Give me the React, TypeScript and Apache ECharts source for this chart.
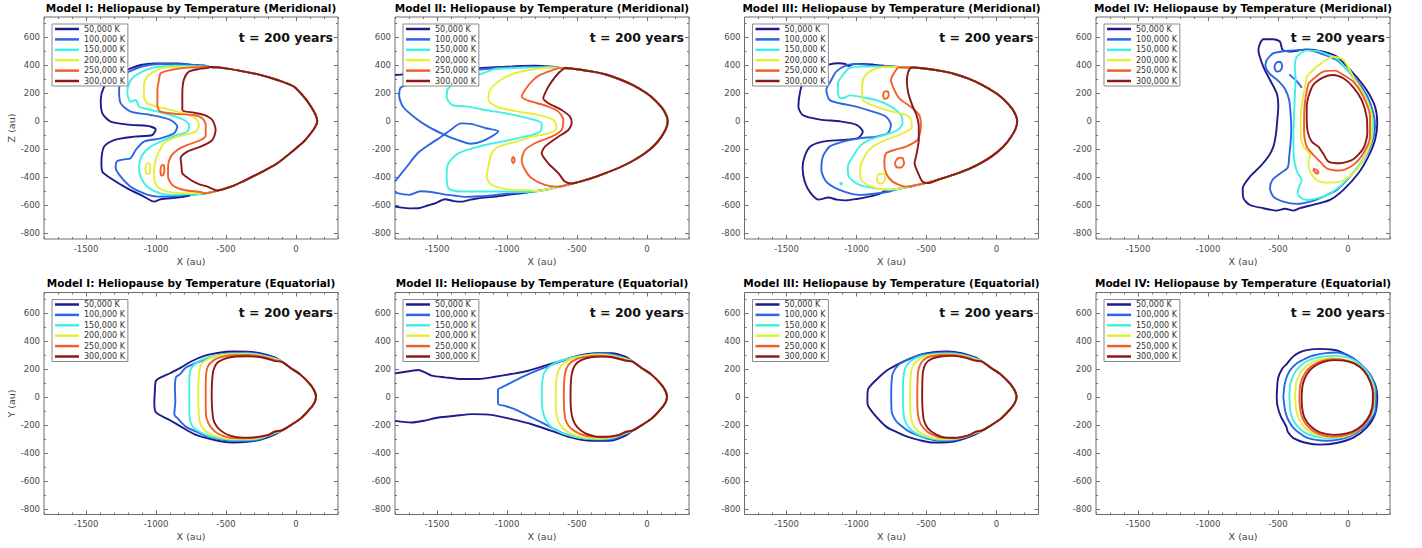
import React, { useEffect, useRef } from 'react';
import * as echarts from 'echarts';

type Pt = [number, number];

const FONT = '"DejaVu Sans", "Liberation Sans", sans-serif';
const LEVELS = ['50,000 K', '100,000 K', '150,000 K', '200,000 K', '250,000 K', '300,000 K'];
const LEVEL_COLORS = ['#1c1c8c', '#2c66e4', '#3ff0e4', '#e6ee3a', '#f2602a', '#8c1818'];
const X_MIN = -1800;
const X_MAX = 300;
const Y_MIN = -841;
const Y_MAX = 745;
const X_LABELS = [-1500, -1000, -500, 0];
const Y_LABELS = [-800, -600, -400, -200, 0, 200, 400, 600];
const X_MINOR = [-1800, -1700, -1600, -1500, -1400, -1300, -1200, -1100, -1000, -900, -800, -700, -600, -500, -400, -300, -200, -100, 0, 100, 200, 300];
const Y_MINOR = [-800, -700, -600, -500, -400, -300, -200, -100, 0, 100, 200, 300, 400, 500, 600, 700];
const TITLES = [
  'Model I: Heliopause by Temperature (Meridional)',
  'Model II: Heliopause by Temperature (Meridional)',
  'Model III: Heliopause by Temperature (Meridional)',
  'Model IV: Heliopause by Temperature (Meridional)',
  'Model I: Heliopause by Temperature (Equatorial)',
  'Model II: Heliopause by Temperature (Equatorial)',
  'Model III: Heliopause by Temperature (Equatorial)',
  'Model IV: Heliopause by Temperature (Equatorial)',
];
const TIME_LABEL = 't = 200 years';

// ---------- Model I, meridional ----------
const M1M_FRONT: Pt[] = [[-950,-545],[-850,-535],[-750,-525],[-650,-515],[-560,-495],[-450,-462],[-371,-425],[-250,-365],[-133,-300],[-14,-205],[60,-140],[110,-80],[140,-35],[152,0],[140,45],[110,100],[60,170],[-14,247],[-133,295],[-250,330],[-371,355],[-500,378],[-610,388],[-700,392],[-800,395]];
const M1M_50: Pt[] = [[-650,398],[-729,402],[-848,414],[-1014,414],[-1110,402],[-1205,370],[-1252,355],[-1312,319],[-1371,247],[-1395,152],[-1383,57],[-1324,-2],[-1181,-26],[-1062,-33],[-1002,-57],[-1026,-98],[-1157,-110],[-1300,-134],[-1371,-181],[-1390,-300],[-1383,-360],[-1324,-407],[-1205,-479],[-1086,-538],[-1014,-574],[-967,-557],[-848,-545],[-760,-530]];
const M1M_100: Pt[] = [[-657,395],[-800,407],[-967,409],[-1086,395],[-1193,355],[-1240,319],[-1264,224],[-1252,128],[-1181,69],[-1038,45],[-895,9],[-848,-38],[-871,-86],[-967,-122],[-1086,-145],[-1145,-205],[-1181,-264],[-1229,-272],[-1281,-288],[-1288,-336],[-1252,-395],[-1181,-467],[-1086,-515],[-990,-538],[-848,-534],[-760,-522]];
const M1M_150: Pt[] = [[-720,393],[-850,397],[-980,390],[-1060,370],[-1157,319],[-1193,271],[-1205,200],[-1181,140],[-1145,152],[-1121,105],[-1086,93],[-990,69],[-895,45],[-800,9],[-764,-26],[-776,-74],[-848,-98],[-943,-134],[-1038,-181],[-1098,-241],[-1121,-324],[-1110,-395],[-1062,-467],[-967,-515],[-848,-526],[-760,-518]];
const M1M_200: Pt[] = [[-700,390],[-850,388],[-943,383],[-1014,355],[-1062,319],[-1086,259],[-1086,176],[-1062,128],[-990,105],[-895,81],[-800,57],[-717,21],[-693,-26],[-717,-74],[-800,-98],[-883,-122],[-943,-157],[-979,-217],[-1002,-276],[-1014,-348],[-1014,-407],[-990,-467],[-919,-503],[-776,-515],[-700,-512]];
const M1M_200_LOOP: Pt[] = [[-1045,-300],[-1040,-340],[-1050,-375],[-1070,-375],[-1075,-335],[-1062,-300]];
const M1M_250: Pt[] = [[-650,388],[-776,383],[-895,366],[-967,343],[-979,295],[-990,224],[-990,105],[-967,69],[-848,52],[-729,45],[-669,21],[-645,-26],[-645,-98],[-681,-134],[-776,-169],[-848,-205],[-895,-253],[-914,-324],[-914,-395],[-883,-455],[-800,-491],[-681,-505]];
const M1M_250_LOOP: Pt[] = [[-945,-310],[-940,-345],[-948,-385],[-962,-388],[-968,-350],[-960,-315]];
const M1M_300: Pt[] = [[-633,380],[-700,372],[-764,355],[-800,300],[-812,200],[-812,81],[-730,62],[-657,45],[-598,9],[-574,-62],[-598,-134],[-681,-181],[-776,-217],[-824,-264],[-818,-320],[-812,-372],[-752,-419],[-690,-450],[-633,-467]];

// ---------- Model II, meridional ----------
const M2M_FRONT: Pt[] = [[-900,-512],[-800,-500],[-700,-484],[-600,-462],[-500,-437],[-400,-408],[-300,-372],[-200,-332],[-100,-282],[-20,-232],[50,-175],[100,-115],[135,-55],[148,0],[138,42],[110,92],[60,148],[0,198],[-100,258],[-200,302],[-300,336],[-400,357],[-500,372],[-600,380],[-700,384],[-800,385]];
const M2M_50_LOW: Pt[] = [[-1800,-610],[-1700,-622],[-1633,-621],[-1560,-600],[-1514,-586],[-1443,-557],[-1380,-570],[-1324,-574],[-1260,-560],[-1205,-550],[-1086,-538],[-967,-522],[-900,-514]];
const M2M_50_UP: Pt[] = [[-700,392],[-800,397],[-900,396],[-967,392],[-1086,386],[-1205,380],[-1324,373],[-1443,367],[-1530,355],[-1633,343],[-1720,336],[-1800,331]];
const M2M_100_LOW: Pt[] = [[-1800,-510],[-1700,-526],[-1620,-500],[-1540,-505],[-1460,-520],[-1380,-530],[-1300,-540],[-1200,-536],[-1100,-528],[-1000,-518],[-900,-508],[-820,-500]];
const M2M_100_UP: Pt[] = [[-700,387],[-850,390],[-1000,384],[-1150,374],[-1300,362],[-1400,345],[-1450,300],[-1550,275],[-1680,265],[-1760,240],[-1770,180],[-1740,100],[-1650,20],[-1560,-40],[-1450,-95],[-1350,-135],[-1260,-160],[-1170,-140],[-1062,-72],[-1150,-50],[-1250,-20],[-1330,-15],[-1400,-60],[-1470,-110],[-1560,-170],[-1640,-230],[-1720,-330],[-1800,-430]];
const M2M_150: Pt[] = [[-1086,374],[-1205,331],[-1324,295],[-1419,236],[-1431,176],[-1395,117],[-1276,105],[-1157,81],[-1014,57],[-848,21],[-752,-14],[-764,-74],[-871,-110],[-1038,-145],[-1205,-181],[-1348,-229],[-1419,-300],[-1431,-383],[-1419,-479],[-1324,-502],[-1157,-502],[-1014,-502],[-900,-505]];
const M2M_200: Pt[] = [[-729,382],[-919,350],[-1038,300],[-1121,224],[-1133,152],[-1098,117],[-1038,93],[-919,69],[-776,45],[-669,10],[-645,-50],[-705,-86],[-824,-110],[-950,-150],[-1062,-181],[-1110,-229],[-1133,-324],[-1145,-395],[-1110,-455],[-967,-490],[-824,-492]];
const M2M_250: Pt[] = [[-633,380],[-764,331],[-824,283],[-871,224],[-895,176],[-860,152],[-824,140],[-705,105],[-633,69],[-598,10],[-610,-62],[-681,-110],[-800,-157],[-871,-205],[-895,-276],[-871,-348],[-824,-407],[-729,-455],[-650,-467]];
const M2M_250_LOOP: Pt[] = [[-950,-255],[-945,-280],[-955,-300],[-965,-280],[-960,-258]];
const M2M_300: Pt[] = [[-586,382],[-633,343],[-681,283],[-717,224],[-741,164],[-705,129],[-610,81],[-550,33],[-538,-14],[-562,-62],[-633,-110],[-729,-181],[-752,-229],[-705,-300],[-633,-371],[-586,-431],[-540,-445]];

// ---------- Model III, meridional ----------
const M3M_FRONT: Pt[] = [[-900,-515],[-800,-500],[-700,-482],[-600,-462],[-500,-440],[-400,-412],[-300,-380],[-200,-342],[-100,-292],[-20,-240],[50,-180],[100,-118],[135,-57],[148,0],[138,42],[110,92],[60,148],[0,198],[-100,258],[-200,304],[-300,338],[-400,360],[-500,375],[-600,384],[-700,388],[-800,390]];
const M3M_50: Pt[] = [[-800,397],[-880,405],[-960,410],[-1020,408],[-1060,395],[-1075,408],[-1130,415],[-1200,405],[-1260,385],[-1330,345],[-1380,285],[-1405,200],[-1415,105],[-1385,45],[-1260,12],[-1120,0],[-1000,-25],[-955,-75],[-990,-120],[-1100,-133],[-1240,-145],[-1330,-180],[-1370,-250],[-1385,-330],[-1370,-430],[-1330,-510],[-1270,-560],[-1200,-545],[-1140,-560],[-1080,-565],[-1000,-555],[-920,-540],[-840,-520]];
const M3M_100: Pt[] = [[-900,398],[-1000,408],[-1074,400],[-1145,355],[-1180,295],[-1216,224],[-1192,152],[-1121,129],[-1003,105],[-884,69],[-789,33],[-754,-26],[-777,-86],[-860,-110],[-979,-121],[-1097,-145],[-1192,-181],[-1240,-252],[-1251,-348],[-1216,-431],[-1121,-490],[-979,-526],[-860,-516],[-780,-505]];
const M3M_150: Pt[] = [[-950,392],[-1050,379],[-1097,331],[-1133,271],[-1133,200],[-1115,165],[-1080,170],[-1050,185],[-979,176],[-860,152],[-754,105],[-683,45],[-671,-14],[-706,-62],[-801,-98],[-908,-133],[-979,-181],[-1026,-252],[-1062,-324],[-1055,-395],[-979,-455],[-860,-479],[-760,-490]];
const M3M_150_DOT: Pt[] = [[-1100,-440],[-1110,-452],[-1118,-440]];
const M3M_200: Pt[] = [[-800,390],[-884,367],[-943,319],[-960,248],[-955,152],[-860,105],[-742,69],[-647,45],[-610,10],[-605,-40],[-623,-62],[-694,-98],[-789,-133],[-884,-181],[-943,-252],[-974,-348],[-967,-419],[-896,-467],[-789,-486],[-720,-485]];
const M3M_200_LOOP: Pt[] = [[-800,-375],[-795,-405],[-810,-440],[-840,-445],[-855,-410],[-840,-378]];
const M3M_250: Pt[] = [[-700,388],[-718,367],[-754,295],[-730,224],[-694,164],[-600,93],[-552,45],[-540,-38],[-564,-133],[-647,-181],[-730,-205],[-789,-229],[-801,-300],[-789,-371],[-742,-431],[-647,-467],[-620,-465]];
const M3M_250_LOOP_A: Pt[] = [[-775,215],[-770,190],[-780,165],[-800,160],[-810,185],[-800,212]];
const M3M_250_LOOP_B: Pt[] = [[-670,-260],[-660,-300],[-680,-330],[-710,-330],[-725,-300],[-705,-265]];
const M3M_300: Pt[] = [[-610,383],[-630,355],[-640,290],[-630,200],[-600,110],[-570,40],[-555,-40],[-555,-130],[-570,-230],[-585,-300],[-560,-370],[-530,-430],[-490,-442]];

// ---------- Model IV, meridional ----------
const M4M_50: Pt[] = [[-628,557],[-605,586],[-533,586],[-486,569],[-467,510],[-414,498],[-295,514],[-176,498],[-81,462],[38,343],[133,224],[193,105],[209,-14],[193,-133],[145,-252],[74,-371],[-33,-490],[-129,-562],[-224,-590],[-343,-621],[-390,-638],[-450,-625],[-509,-638],[-605,-621],[-700,-598],[-747,-550],[-752,-479],[-700,-395],[-628,-324],[-569,-252],[-533,-181],[-514,-86],[-505,10],[-498,105],[-509,200],[-557,295],[-605,390],[-640,510]];
const M4M_100: Pt[] = [[-581,438],[-533,486],[-414,505],[-295,510],[-200,486],[-81,438],[38,319],[133,188],[181,57],[193,-38],[169,-157],[110,-276],[14,-395],[-81,-490],[-176,-538],[-271,-574],[-367,-590],[-462,-574],[-533,-538],[-557,-479],[-540,-420],[-480,-370],[-430,-330],[-420,-250],[-410,-150],[-405,-50],[-410,50],[-420,150],[-450,230],[-500,290],[-560,340],[-590,400]];
const M4M_100_LOOP_A: Pt[] = [[-480,425],[-470,395],[-485,360],[-510,355],[-525,385],[-510,420]];
const M4M_100_LOOP_B: Pt[] = [[-420,335],[-370,290],[-330,240],[-360,280]];
const M4M_150: Pt[] = [[-367,462],[-300,505],[-230,505],[-150,478],[-70,440],[30,320],[120,190],[168,60],[180,-40],[160,-160],[100,-280],[0,-410],[-110,-505],[-200,-545],[-290,-562],[-340,-545],[-360,-510],[-350,-470],[-330,-420],[-360,-370],[-380,-300],[-390,-200],[-390,-80],[-385,50],[-380,180],[-375,300],[-380,400]];
const M4M_200: Pt[] = [[-295,319],[-224,390],[-105,462],[-33,438],[38,319],[121,176],[169,33],[169,-110],[121,-252],[38,-371],[-57,-431],[-152,-438],[-224,-419],[-271,-360],[-283,-300],[-271,-240],[-319,-181],[-338,-86],[-338,33],[-324,152],[-307,248]];
const M4M_250: Pt[] = [[-283,271],[-176,355],[-93,362],[-33,331],[38,283],[110,176],[157,33],[157,-110],[110,-229],[38,-312],[-57,-352],[-152,-336],[-200,-288],[-248,-240],[-295,-181],[-314,-62],[-312,81],[-302,176]];
const M4M_250_LOOP: Pt[] = [[-250,-345],[-220,-375],[-210,-365],[-240,-340]];
const M4M_300: Pt[] = [[-283,176],[-248,260],[-176,314],[-105,331],[-33,307],[38,243],[98,152],[133,33],[138,-86],[110,-193],[38,-271],[-57,-300],[-140,-288],[-176,-233],[-212,-181],[-259,-145],[-288,-74],[-295,33],[-295,105]];

// ---------- equatorial front (shared nose region) ----------
const EQ_FRONT: Pt[] = [[-100,-240],[-30,-198],[30,-158],[95,-92],[130,-45],[143,0],[130,45],[95,95],[30,160],[-30,200],[-100,250]];

// ---------- Model I, equatorial ----------
const M1E_50: Pt[] = [[-150,282],[-250,310],[-350,322],[-452,323],[-550,315],[-650,294],[-750,252],[-820,210],[-900,168],[-1000,115],[-1008,40],[-1012,-45],[-1000,-112],[-900,-168],[-810,-220],[-730,-265],[-643,-294],[-540,-318],[-452,-327],[-350,-322],[-250,-305],[-150,-268]];
const M1E_100: Pt[] = [[-150,276],[-250,302],[-350,315],[-452,312],[-550,295],[-643,270],[-730,235],[-790,205],[-830,160],[-857,140],[-865,60],[-862,-30],[-869,-124],[-840,-160],[-785,-215],[-700,-255],[-643,-280],[-550,-302],[-452,-315],[-350,-315],[-250,-300],[-150,-262]];
const M1E_150: Pt[] = [[-150,272],[-250,298],[-350,310],[-450,308],[-550,297],[-640,278],[-700,250],[-745,210],[-760,160],[-762,60],[-762,-50],[-760,-150],[-740,-210],[-690,-250],[-620,-280],[-540,-298],[-450,-308],[-350,-308],[-250,-295],[-150,-258]];
const M1E_200: Pt[] = [[-150,268],[-250,293],[-350,305],[-450,304],[-550,293],[-620,272],[-670,240],[-690,190],[-697,100],[-698,0],[-695,-100],[-690,-170],[-670,-220],[-620,-262],[-550,-288],[-450,-302],[-350,-302],[-250,-290],[-150,-255]];
const M1E_250: Pt[] = [[-150,262],[-250,288],[-350,298],[-450,297],[-530,285],[-590,260],[-630,215],[-643,150],[-645,50],[-645,-50],[-640,-150],[-610,-215],[-560,-262],[-480,-290],[-400,-296],[-300,-293],[-200,-275],[-150,-250]];
const M1E_300: Pt[] = [[-150,255],[-250,282],[-350,290],[-430,288],[-500,275],[-560,245],[-590,190],[-600,100],[-602,0],[-598,-100],[-585,-180],[-540,-240],[-470,-278],[-380,-292],[-300,-290],[-200,-272],[-150,-248]];

// ---------- Model II, equatorial ----------
const M2E_50_LOW: Pt[] = [[-1800,-172],[-1680,-184],[-1586,-170],[-1490,-148],[-1371,-136],[-1252,-124],[-1110,-129],[-967,-160],[-824,-196],[-681,-244],[-538,-292],[-395,-315],[-252,-312],[-150,-275]];
const M2E_50_UP: Pt[] = [[-150,285],[-252,312],[-371,311],[-490,294],[-610,258],[-729,222],[-848,186],[-967,163],[-1086,143],[-1205,127],[-1324,127],[-1443,139],[-1538,151],[-1586,174],[-1633,191],[-1680,186],[-1800,167]];
const M2E_100: Pt[] = [[-150,275],[-252,303],[-350,305],[-443,294],[-586,262],[-729,210],[-871,151],[-967,103],[-1038,67],[-1062,55],[-1065,0],[-1062,-53],[-1014,-65],[-919,-100],[-824,-148],[-705,-208],[-586,-266],[-443,-296],[-350,-305],[-252,-303],[-150,-265]];
const M2E_150: Pt[] = [[-150,272],[-250,298],[-350,304],[-450,295],[-550,275],[-640,250],[-700,215],[-735,170],[-750,90],[-752,0],[-748,-80],[-730,-150],[-690,-210],[-620,-255],[-540,-280],[-450,-297],[-350,-302],[-250,-295],[-150,-260]];
const M2E_200: Pt[] = [[-150,268],[-250,292],[-350,300],[-450,292],[-540,270],[-600,235],[-635,180],[-650,100],[-652,0],[-650,-100],[-635,-170],[-600,-225],[-540,-265],[-450,-290],[-350,-298],[-250,-290],[-150,-257]];
const M2E_250: Pt[] = [[-150,262],[-250,287],[-350,293],[-430,287],[-500,270],[-560,230],[-585,170],[-593,80],[-594,0],[-592,-90],[-580,-170],[-545,-225],[-480,-265],[-400,-285],[-300,-290],[-200,-275],[-150,-252]];
const M2E_300: Pt[] = [[-150,257],[-250,282],[-320,287],[-400,282],[-470,262],[-515,225],[-538,160],[-545,80],[-546,0],[-543,-90],[-530,-160],[-500,-215],[-440,-262],[-370,-283],[-300,-286],[-200,-272],[-150,-250]];

// ---------- Model III, equatorial ----------
const M3E_50: Pt[] = [[-150,282],[-250,312],[-350,323],[-452,318],[-550,300],[-643,262],[-720,225],[-786,186],[-860,120],[-917,55],[-922,0],[-921,-53],[-870,-130],[-786,-215],[-700,-258],[-643,-283],[-550,-310],[-452,-327],[-350,-325],[-250,-305],[-150,-268]];
const M3E_100: Pt[] = [[-150,276],[-250,305],[-350,316],[-452,312],[-550,295],[-640,262],[-700,228],[-740,170],[-750,100],[-752,0],[-748,-110],[-720,-170],[-690,-200],[-630,-245],[-571,-272],[-480,-303],[-380,-316],[-280,-305],[-150,-262]];
const M3E_150: Pt[] = [[-150,272],[-250,300],[-350,310],[-450,305],[-540,290],[-610,258],[-650,210],[-665,140],[-668,50],[-667,-50],[-660,-150],[-630,-215],[-570,-265],[-480,-295],[-380,-308],[-280,-300],[-150,-258]];
const M3E_200: Pt[] = [[-150,268],[-250,295],[-350,305],[-440,300],[-520,285],[-575,250],[-605,200],[-615,120],[-617,0],[-615,-110],[-600,-190],[-560,-245],[-490,-285],[-400,-302],[-300,-298],[-200,-280],[-150,-256]];
const M3E_250: Pt[] = [[-150,262],[-250,290],[-350,300],[-430,295],[-500,278],[-540,240],[-560,180],[-565,80],[-566,0],[-564,-90],[-552,-170],[-520,-225],[-460,-270],[-380,-293],[-300,-295],[-200,-278],[-150,-252]];
const M3E_300: Pt[] = [[-150,257],[-250,285],[-320,292],[-400,288],[-460,272],[-505,238],[-525,180],[-530,90],[-531,0],[-528,-90],[-518,-170],[-490,-225],[-430,-270],[-360,-292],[-300,-293],[-200,-276],[-150,-250]];

// ---------- Model IV, equatorial ----------
const M4E_50: Pt[] = [[-509,0],[-500,130],[-470,200],[-438,234],[-400,280],[-350,315],[-295,333],[-200,342],[-120,338],[-60,325],[38,272],[133,186],[193,91],[209,0],[193,-124],[133,-220],[38,-292],[-81,-330],[-200,-342],[-295,-330],[-390,-295],[-430,-250],[-440,-215],[-480,-140],[-505,-60]];
const M4E_100: Pt[] = [[-462,0],[-450,100],[-420,180],[-367,238],[-300,275],[-248,295],[-160,312],[-81,316],[0,295],[62,258],[157,162],[200,43],[195,-100],[110,-222],[-10,-292],[-152,-314],[-295,-292],[-390,-222],[-443,-124]];
const M4E_150: Pt[] = [[-419,0],[-410,100],[-375,180],[-320,238],[-250,272],[-160,290],[-81,292],[0,280],[62,250],[150,160],[190,45],[185,-90],[120,-200],[20,-270],[-100,-295],[-200,-290],[-300,-262],[-375,-195],[-410,-110]];
const M4E_200: Pt[] = [[-378,0],[-370,100],[-340,170],[-290,225],[-220,260],[-140,275],[-60,272],[30,250],[100,200],[160,120],[185,30],[180,-80],[140,-170],[70,-240],[-20,-280],[-120,-290],[-220,-272],[-300,-230],[-350,-160],[-372,-80]];
const M4E_250: Pt[] = [[-347,0],[-340,90],[-310,165],[-260,220],[-190,255],[-110,268],[-40,265],[40,242],[110,190],[160,110],[182,25],[177,-80],[140,-170],[75,-235],[-10,-272],[-110,-285],[-210,-265],[-280,-220],[-325,-155],[-343,-80]];
const M4E_300: Pt[] = [[-331,0],[-323,90],[-295,160],[-245,215],[-175,250],[-100,262],[-30,258],[50,235],[115,185],[160,105],[178,20],[172,-80],[135,-165],[70,-228],[-10,-262],[-100,-272],[-200,-255],[-265,-212],[-310,-150],[-328,-75]];

// ---------- helpers that assemble a contour from its read parts ----------
function join(pre: Pt[], post: Pt[], front: Pt[]): Pt[] {
  const a = pre[pre.length - 1][0];
  const b = post[0][0];
  const mid = front.filter((p) => (p[1] < 0 ? p[0] > a : p[0] > b));
  return [...pre, ...mid, ...post];
}
function closeFront(back: Pt[], front: Pt[]): Pt[] {
  return join(back, [back[0]], front);
}
function loop(pts: Pt[]): Pt[] {
  return [...pts, pts[0]];
}

type Line = [number, Pt[]];
const PANELS: { col: number; row: number; lines: Line[] }[] = [
  { col: 0, row: 0, lines: [
    [0, closeFront(M1M_50, M1M_FRONT)], [1, closeFront(M1M_100, M1M_FRONT)], [2, closeFront(M1M_150, M1M_FRONT)],
    [3, closeFront(M1M_200, M1M_FRONT)], [3, loop(M1M_200_LOOP)], [4, closeFront(M1M_250, M1M_FRONT)], [4, loop(M1M_250_LOOP)],
    [5, closeFront(M1M_300, M1M_FRONT)],
  ] },
  { col: 1, row: 0, lines: [
    [0, join(M2M_50_LOW, M2M_50_UP, M2M_FRONT)], [1, join(M2M_100_LOW, M2M_100_UP, M2M_FRONT)],
    [2, closeFront(M2M_150, M2M_FRONT)], [3, closeFront(M2M_200, M2M_FRONT)],
    [4, closeFront(M2M_250, M2M_FRONT)], [4, loop(M2M_250_LOOP)], [5, closeFront(M2M_300, M2M_FRONT)],
  ] },
  { col: 2, row: 0, lines: [
    [0, closeFront(M3M_50, M3M_FRONT)], [1, closeFront(M3M_100, M3M_FRONT)], [2, closeFront(M3M_150, M3M_FRONT)],
    [2, loop(M3M_150_DOT)], [3, closeFront(M3M_200, M3M_FRONT)], [3, loop(M3M_200_LOOP)],
    [4, closeFront(M3M_250, M3M_FRONT)], [4, loop(M3M_250_LOOP_A)], [4, loop(M3M_250_LOOP_B)],
    [5, closeFront(M3M_300, M3M_FRONT)],
  ] },
  { col: 3, row: 0, lines: [
    [0, loop(M4M_50)], [1, loop(M4M_100)], [1, loop(M4M_100_LOOP_A)], [1, loop(M4M_100_LOOP_B)],
    [2, loop(M4M_150)], [3, loop(M4M_200)], [4, loop(M4M_250)], [4, loop(M4M_250_LOOP)], [5, loop(M4M_300)],
  ] },
  { col: 0, row: 1, lines: [
    [0, closeFront(M1E_50, EQ_FRONT)], [1, closeFront(M1E_100, EQ_FRONT)], [2, closeFront(M1E_150, EQ_FRONT)],
    [3, closeFront(M1E_200, EQ_FRONT)], [4, closeFront(M1E_250, EQ_FRONT)], [5, closeFront(M1E_300, EQ_FRONT)],
  ] },
  { col: 1, row: 1, lines: [
    [0, join(M2E_50_LOW, M2E_50_UP, EQ_FRONT)], [1, closeFront(M2E_100, EQ_FRONT)], [2, closeFront(M2E_150, EQ_FRONT)],
    [3, closeFront(M2E_200, EQ_FRONT)], [4, closeFront(M2E_250, EQ_FRONT)], [5, closeFront(M2E_300, EQ_FRONT)],
  ] },
  { col: 2, row: 1, lines: [
    [0, closeFront(M3E_50, EQ_FRONT)], [1, closeFront(M3E_100, EQ_FRONT)], [2, closeFront(M3E_150, EQ_FRONT)],
    [3, closeFront(M3E_200, EQ_FRONT)], [4, closeFront(M3E_250, EQ_FRONT)], [5, closeFront(M3E_300, EQ_FRONT)],
  ] },
  { col: 3, row: 1, lines: [
    [0, loop(M4E_50)], [1, loop(M4E_100)], [2, loop(M4E_150)], [3, loop(M4E_200)], [4, loop(M4E_250)], [5, loop(M4E_300)],
  ] },
];

const COL_LEFT = [44, 395, 744.5, 1096];
const ROW_TOP = [17, 292.5];
const GRID_W = 294;
const GRID_H = 222;

function buildOption() {
  const grid: any[] = [];
  const xAxis: any[] = [];
  const yAxis: any[] = [];
  const series: any[] = [];
  const legend: any[] = [];
  const graphic: any[] = [];
  const tickColor = '#707070';
  const labelStyle = { fontSize: 8.5, color: '#4a4a4a', fontFamily: FONT };

  PANELS.forEach((p, i) => {
    const left = COL_LEFT[p.col];
    const top = ROW_TOP[p.row];
    grid.push({ left, top, width: GRID_W, height: GRID_H, show: true, borderColor: '#6c6c6c', borderWidth: 1, backgroundColor: '#ffffff' });

    const xb = { gridIndex: i, type: 'value', min: X_MIN, max: X_MAX, splitLine: { show: false }, axisLine: { show: false, onZero: false } };
    const yb = { gridIndex: i, type: 'value', min: Y_MIN, max: Y_MAX, splitLine: { show: false }, axisLine: { show: false, onZero: false } };
    const minorTick = (vals: number[]) => ({ show: true, inside: true, length: 2, customValues: vals, lineStyle: { color: tickColor, width: 1 } });
    const majorTick = (vals: number[]) => ({ show: true, inside: true, length: 4, customValues: vals, lineStyle: { color: tickColor, width: 1 } });

    xAxis.push({
      ...xb, position: 'bottom', axisTick: minorTick(X_MINOR),
      axisLabel: { show: true, customValues: X_LABELS, margin: 5, formatter: (v: number) => String(v), ...labelStyle },
      name: 'X (au)', nameLocation: 'middle', nameGap: 17, nameTextStyle: { fontSize: 9.5, color: '#444', fontFamily: FONT },
    });
    xAxis.push({ ...xb, position: 'top', axisTick: minorTick(X_MINOR), axisLabel: { show: false } });
    xAxis.push({ ...xb, position: 'bottom', axisTick: majorTick(X_LABELS), axisLabel: { show: false } });
    xAxis.push({ ...xb, position: 'top', axisTick: majorTick(X_LABELS), axisLabel: { show: false } });

    const yName = p.col === 0 ? (p.row === 0 ? 'Z (au)' : 'Y (au)') : '';
    yAxis.push({
      ...yb, position: 'left', axisTick: minorTick(Y_MINOR),
      axisLabel: { show: true, customValues: Y_LABELS, margin: 4, formatter: (v: number) => String(v), ...labelStyle },
      name: yName, nameLocation: 'middle', nameGap: 27, nameRotate: 90, nameTextStyle: { fontSize: 9.5, color: '#444', fontFamily: FONT },
    });
    yAxis.push({ ...yb, position: 'right', axisTick: minorTick(Y_MINOR), axisLabel: { show: false } });
    yAxis.push({ ...yb, position: 'left', axisTick: majorTick(Y_LABELS), axisLabel: { show: false } });
    yAxis.push({ ...yb, position: 'right', axisTick: majorTick(Y_LABELS), axisLabel: { show: false } });

    p.lines.forEach(([lvl, data]) => {
      const color = LEVEL_COLORS[lvl];
      series.push({
        type: 'line', name: LEVELS[lvl], xAxisIndex: 4 * i, yAxisIndex: 4 * i, data,
        showSymbol: false, symbol: 'none', smooth: 0.25, color,
        lineStyle: { width: 1.9, color }, itemStyle: { color },
        silent: true, emphasis: { disabled: true }, clip: true,
      });
    });

    legend.push({
      left: left + 8, top: top + 7, orient: 'vertical', data: LEVELS, icon: 'rect',
      itemWidth: 24, itemHeight: 2.5, itemGap: 2.4, padding: [1, 3, 1, 3],
      borderColor: '#8a8a8a', borderWidth: 1, backgroundColor: '#ffffff', selectedMode: false,
      textStyle: { fontSize: 8, lineHeight: 8, color: '#333', fontFamily: FONT },
    });

    graphic.push({
      type: 'text', x: left + GRID_W / 2, y: top - 9.5, silent: true,
      style: { text: TITLES[i], font: `bold 10.5px ${FONT}`, fill: '#000', align: 'center', verticalAlign: 'middle' },
    });
    graphic.push({
      type: 'text', x: left + GRID_W - 5, y: top + 20.3, silent: true, z: 10,
      style: { text: TIME_LABEL, font: `bold 12.5px ${FONT}`, fill: '#111', align: 'right', verticalAlign: 'middle' },
    });
  });

  return {
    animation: false,
    backgroundColor: '#ffffff',
    textStyle: { fontFamily: FONT },
    grid, xAxis, yAxis, series, legend, graphic,
  };
}

export default function App() {
  const ref = useRef<HTMLDivElement | null>(null);
  useEffect(() => {
    if (!ref.current) return;
    const chart = echarts.init(ref.current, undefined, { renderer: 'svg' });
    chart.setOption(buildOption() as any);
    return () => chart.dispose();
  }, []);
  return <div ref={ref} style={{ position: 'fixed', left: 0, top: 0, width: 1422, height: 548, background: '#fff' }} />;
}
